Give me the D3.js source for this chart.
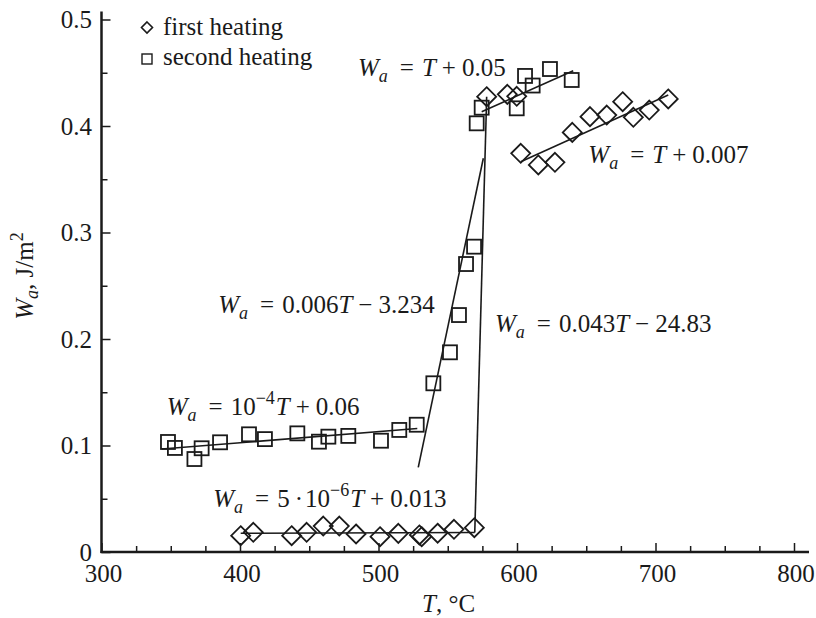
<!DOCTYPE html>
<html>
<head>
<meta charset="utf-8">
<script src="https://cdn.jsdelivr.net/npm/d3@7"></script>
</head>
<body style="margin:0">
<svg id="chart" width="816" height="618"></svg>
<script>
// ---- data ----
const firstT = [400.5, 409.6, 437.3, 448.1, 460.1, 471.7, 483.8, 501.1, 514.3, 529.5, 531.2, 542.7, 554.5, 569.2,
                578.1, 593.0, 599.8, 602.7, 615.4, 627.4, 639.9, 652.7, 664.8, 676.3, 684.0, 695.5, 709.2];
const firstW = [0.0153, 0.0185, 0.0153, 0.0185, 0.0244, 0.0244, 0.0169, 0.0144, 0.0175, 0.0160, 0.0144, 0.0176, 0.0213, 0.0228,
                0.4275, 0.4297, 0.4279, 0.3744, 0.3634, 0.3659, 0.3940, 0.4088, 0.4103, 0.4228, 0.4082, 0.4150, 0.4254];
const secondT = [348.0, 353.0, 367.1, 372.3, 385.6, 406.5, 418.0, 441.4, 457.0, 463.8, 478.2, 501.8, 515.0, 527.6,
                 539.6, 551.6, 558.1, 563.2, 569.0, 570.9, 574.5, 599.8, 605.8, 611.3, 623.8, 639.5];
const secondW = [0.1033, 0.0977, 0.0873, 0.0974, 0.1030, 0.1105, 0.1060, 0.1114, 0.1036, 0.1083, 0.1090, 0.1045, 0.1146, 0.1195,
                 0.1584, 0.1875, 0.2225, 0.2704, 0.2867, 0.4025, 0.4172, 0.4166, 0.4470, 0.4380, 0.4535, 0.4432];
// fitted lines: [T0, W0, T1, W1]
const fitLines = [
  [343.5, 0.0967, 528.0, 0.1160],   // 10^-4 T + 0.06
  [528.7, 0.0795, 575.7, 0.3697],   // 0.006T - 3.234
  [574.5, 0.4134, 640.6, 0.4519],   // T + 0.05
  [400.5, 0.0176, 569.5, 0.0183],   // 5e-6 T + 0.013
  [569.5, 0.0183, 578.1, 0.4275],   // 0.043T - 24.83
  [602.7, 0.3665, 709.2, 0.4291]    // T + 0.007
];
const xTicks = [300, 400, 500, 600, 700, 800];
const yTicks = [0, 0.1, 0.2, 0.3, 0.4, 0.5];
const yTickLabels = ["0", "0.1", "0.2", "0.3", "0.4", "0.5"];
const legendLabels = ["first heating", "second heating"];

// equation annotations: [T, W] anchor (data coords) and segments
const equations = [
  { at: [485.2, 0.4470], segs: [["W","i"],["a","sub"],["=","op"],["T","i"],["+","op2"],["0.05",""]] },
  { at: [651.5, 0.3650], segs: [["W","i"],["a","sub"],["=","op"],["T","i"],["+","op2"],["0.007",""]] },
  { at: [384.3, 0.2241], segs: [["W","i"],["a","sub"],["=","op"],["0.006",""],["T","i"],["\u2212","op2"],["3.234",""]] },
  { at: [584.1, 0.2069], segs: [["W","i"],["a","sub"],["=","op"],["0.043",""],["T","i"],["\u2212","op2"],["24.83",""]] },
  { at: [347.1, 0.1286], segs: [["W","i"],["a","sub"],["=","op"],["10",""],["\u22124","sup"],["T","i"],["+","op2"],["0.06",""]] },
  { at: [380.7, 0.0425], segs: [["W","i"],["a","sub"],["=","op"],["5",""],["\u00b7","dot"],["10",""],["\u22126","sup"],["T","i"],["+","op2"],["0.013",""]] }
];

// ---- chart ----
const svg = d3.select("#chart");
const x = d3.scaleLinear().domain([300, 800]).range([101.5, 794]);
const y = d3.scaleLinear().domain([0, 0.5]).range([552, 19.5]);
const ink = "#1a1a1a";
const FF = '"Liberation Serif"';
const serif = sel => sel.attr("font-family", "Liberation Serif")
  .style("font-family", FF, "important").attr("fill", ink);

// axes
const xAxis = d3.axisBottom(x).tickValues(d3.range(300, 801, 25)).tickSize(-6).tickFormat("");
const gx = svg.append("g").attr("transform", `translate(0,${y(0)})`).call(xAxis);
gx.select(".domain").remove();
gx.selectAll(".tick line").attr("stroke", ink).attr("stroke-width", 1.5)
  .attr("y2", d => (d % 100 === 0 ? -9 : -6));
svg.append("line").attr("x1", x(300) - 1).attr("x2", x(800) + 15).attr("y1", y(0)).attr("y2", y(0))
  .attr("stroke", ink).attr("stroke-width", 2.5);
svg.selectAll("text.xl").data(xTicks).join("text").attr("class", "xl").call(serif)
  .attr("x", d => x(d) + 2).attr("y", 582).attr("text-anchor", "middle")
  .attr("font-size", 25).text(d => d);

const yAxis = d3.axisLeft(y).tickValues(d3.range(0, 0.501, 0.05)).tickSize(-6).tickFormat("");
const gy = svg.append("g").attr("transform", `translate(${x(300)},0)`).call(yAxis);
gy.select(".domain").remove();
gy.selectAll(".tick line").attr("stroke", ink).attr("stroke-width", 1.5)
  .attr("x2", (d, i) => (i % 2 === 0 ? 9 : 6));
svg.append("line").attr("x1", x(300)).attr("x2", x(300)).attr("y1", y(0) + 1).attr("y2", y(0.5) - 8)
  .attr("stroke", ink).attr("stroke-width", 2.5);
svg.selectAll("text.yl").data(yTicks).join("text").attr("class", "yl").call(serif)
  .attr("x", 92).attr("y", d => y(d) + 8.5).attr("text-anchor", "end")
  .attr("font-size", 25).text((d, i) => yTickLabels[i]);

// axis titles
const xt = svg.append("text").call(serif).attr("x", 422).attr("y", 612).attr("font-size", 25);
xt.append("tspan").attr("font-style", "italic").text("T");
xt.append("tspan").text(", \u00b0C");

const yt = svg.append("text").call(serif).attr("transform", "translate(33,276) rotate(-90)")
  .attr("text-anchor", "middle").attr("font-size", 25);
yt.append("tspan").attr("font-style", "italic").text("W");
yt.append("tspan").attr("font-style", "italic").attr("font-size", 18).attr("dy", 5).text("a");
yt.append("tspan").attr("dy", -5).text(", J/m");
yt.append("tspan").attr("font-size", 18).attr("dy", -10).text("2");

// fit lines
svg.append("g").selectAll("line").data(fitLines).join("line")
  .attr("x1", d => x(d[0])).attr("y1", d => y(d[1]))
  .attr("x2", d => x(d[2])).attr("y2", d => y(d[3]))
  .attr("stroke", ink).attr("stroke-width", 1.6);

// markers
const sq = 14, dm = 9.5;
const diamondPath = (cx, cy, r) => `M${cx},${cy - r}L${cx + r},${cy}L${cx},${cy + r}L${cx - r},${cy}Z`;
svg.append("g").selectAll("rect").data(secondT.map((t, i) => [t, secondW[i]])).join("rect")
  .attr("x", d => x(d[0]) - sq / 2).attr("y", d => y(d[1]) - sq / 2)
  .attr("width", sq).attr("height", sq)
  .attr("fill", "none").attr("stroke", ink).attr("stroke-width", 1.8);
svg.append("g").selectAll("path").data(firstT.map((t, i) => [t, firstW[i]])).join("path")
  .attr("d", d => diamondPath(x(d[0]), y(d[1]), dm))
  .attr("fill", "none").attr("stroke", ink).attr("stroke-width", 1.8);

// legend
svg.append("path").attr("d", diamondPath(147, 27.5, 5.5))
  .attr("fill", "none").attr("stroke", ink).attr("stroke-width", 1.6);
svg.append("rect").attr("x", 142).attr("y", 54).attr("width", 10).attr("height", 10)
  .attr("fill", "none").attr("stroke", ink).attr("stroke-width", 1.4);
svg.selectAll("text.lg").data(legendLabels).join("text").attr("class", "lg").call(serif)
  .attr("x", 163).attr("y", (d, i) => 35 + i * 30).attr("font-size", 25).text(d => d);

// equations
const gapBefore = { op: 12, op2: 6, dot: 5 };
const gapAfter = { op: 8, op2: 6, dot: 2, sup: 1 };
equations.forEach(eq => {
  const t = svg.append("text").call(serif).attr("x", x(eq.at[0])).attr("y", y(eq.at[1])).attr("font-size", 25);
  let shift = 0;
  eq.segs.forEach(([s, kind], k) => {
    const sp = t.append("tspan").text(s);
    const prev = k > 0 ? eq.segs[k - 1][1] : "";
    const dx = (gapBefore[kind] || 0) + (gapAfter[prev] || 0);
    let target = 0;
    if (kind === "i") sp.attr("font-style", "italic");
    if (kind === "sub") { sp.attr("font-style", "italic").attr("font-size", 18); target = 6; }
    if (kind === "sup") { sp.attr("font-size", 18); target = -11; }
    const dy = target - shift; shift = target;
    if (dx) sp.attr("dx", dx);
    if (dy) sp.attr("dy", dy);
  });
});
</script>
</body>
</html>
